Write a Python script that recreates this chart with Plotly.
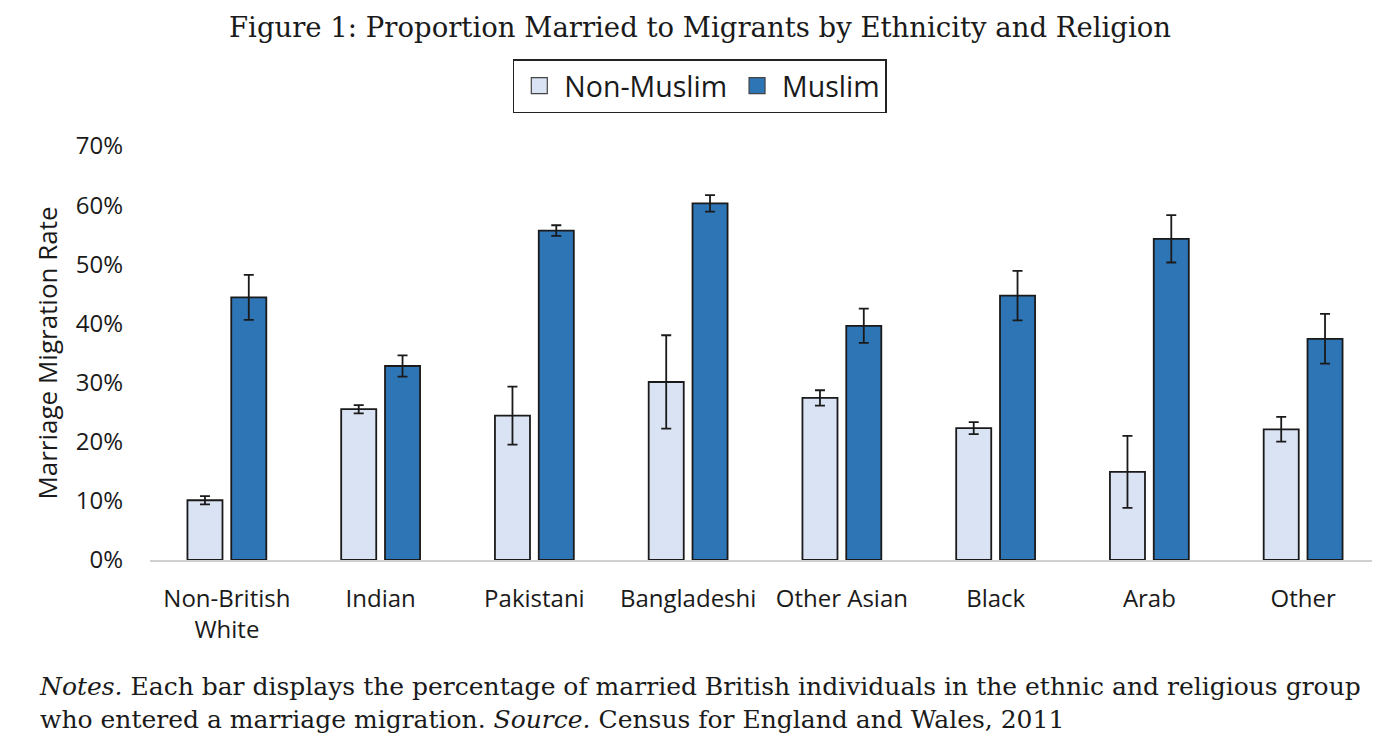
import plotly.graph_objects as go

# values (proportions)
groups = ["Non-British<br>White", "Indian", "Pakistani", "Bangladeshi",
          "Other Asian", "Black", "Arab", "Other"]
non_muslim = [0.101, 0.255, 0.244, 0.301, 0.274, 0.223, 0.149, 0.221]
non_muslim_err = [0.007, 0.007, 0.049, 0.079, 0.013, 0.010, 0.061, 0.021]
muslim = [0.444, 0.328, 0.557, 0.603, 0.396, 0.447, 0.543, 0.374]
muslim_err = [0.038, 0.018, 0.009, 0.014, 0.029, 0.042, 0.040, 0.042]
y_ticks = [0, 0.1, 0.2, 0.3, 0.4, 0.5, 0.6, 0.7]

light = "#DAE3F3"
dark = "#2E75B6"
edge = "#1a1a1a"

fig = go.Figure()

fig.add_trace(go.Bar(
    name="Non-Muslim", x=groups, y=non_muslim, showlegend=False,
    marker=dict(color=light, line=dict(color=edge, width=1.8)),
    error_y=dict(type="data", array=non_muslim_err, color=edge,
                 thickness=1.8, width=5),
))
fig.add_trace(go.Bar(
    name="Muslim", x=groups, y=muslim, showlegend=False,
    marker=dict(color=dark, line=dict(color=edge, width=1.8)),
    error_y=dict(type="data", array=muslim_err, color=edge,
                 thickness=1.8, width=5),
))

# legend entries with square swatches, like the original
for name, col in [("Non-Muslim", light), ("Muslim", dark)]:
    fig.add_trace(go.Scatter(
        x=[None], y=[None], mode="markers", name=name,
        marker=dict(symbol="square", size=16, color=col,
                    line=dict(color="#444", width=1.2)),
    ))

sans = "Open Sans, Lato, sans-serif"
tick_font = dict(family=sans, size=24, color="#1a1a1a")

fig.update_layout(
    width=1372, height=730,
    margin=dict(l=142, r=0, t=138, b=178),
    paper_bgcolor="white", plot_bgcolor="white",
    barmode="group", bargap=0.43, bargroupgap=0.2,
    showlegend=True,
    legend=dict(
        orientation="h", x=0.447, xanchor="center", y=1.21, yanchor="top",
        bordercolor="#222", borderwidth=1.5, bgcolor="white",
        font=dict(family=sans, size=28.5, color="#1a1a1a"),
        itemwidth=40,
    ),
    xaxis=dict(
        showgrid=False, showline=True, linecolor="#d0d0d0", linewidth=1.5,
        tickfont=tick_font, ticks="", ticklabelstandoff=16,
    ),
    yaxis=dict(
        range=[0, 0.7], tickvals=y_ticks, tickformat=".0%",
        showgrid=False, showline=False, zeroline=False,
        tickfont=tick_font, ticklabelstandoff=26,
        title=dict(text="Marriage Migration Rate", standoff=10,
                   font=dict(family=sans, size=26, color="#1a1a1a")),
    ),
    font=dict(family=sans),
)

serif = dict(family="DejaVu Serif, Liberation Serif, serif", color="#1a1a1a")

fig.add_annotation(
    text="Figure 1: Proportion Married to Migrants by Ethnicity and Religion",
    xref="paper", yref="paper", x=0.447, y=1.287, xanchor="center",
    yanchor="middle", showarrow=False, font=dict(size=27.5, **serif),
)
fig.add_annotation(
    text="<i>Notes.</i> Each bar displays the percentage of married British individuals "
         "in the ethnic and religious group<br>who entered a marriage migration. "
         "<i>Source.</i> Census for England and Wales, 2011",
    xref="paper", yref="paper", x=-0.092, y=-0.265, xanchor="left",
    yanchor="top", align="left", showarrow=False, font=dict(size=25, **serif),
)

fig.write_html("out.html")
